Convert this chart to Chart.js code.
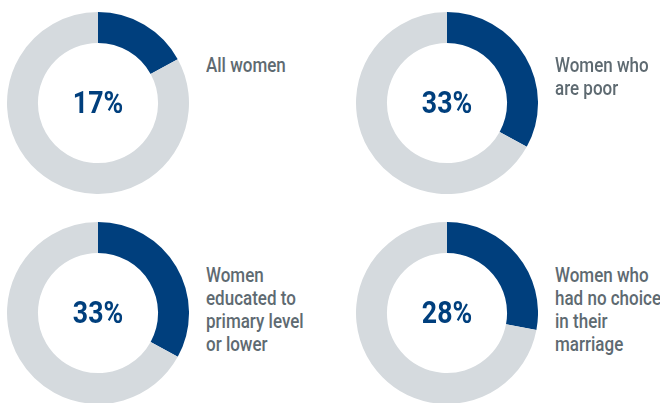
<!DOCTYPE html>
<html>
<head>
<meta charset="utf-8">
<script src="https://cdn.jsdelivr.net/npm/chart.js@4"></script>
<style>
  html, body { margin: 0; padding: 0; background: #fff; }
  #wrap { position: relative; width: 660px; height: 403px; overflow: hidden; }
  canvas { position: absolute; }
  .pct {
    position: absolute; width: 182px; text-align: center;
    font-family: "Roboto", sans-serif;
    font-weight: bold; font-size: 31px; color: #003f7d; line-height: 1;
    transform: scaleX(0.86); white-space: nowrap;
  }
  .lbl {
    position: absolute; white-space: nowrap;
    font-family: "Roboto", sans-serif; font-weight: 500;
    font-size: 20px; color: #5e6a71; line-height: 23px;
    transform: scaleX(0.85); transform-origin: 0 0;
  }
</style>
</head>
<body>
<div id="wrap"></div>
<script>
// share of women in each group
const groups = ["All women", "Women who are poor", "Women educated to primary level or lower", "Women who had no choice in their marriage"];
const labelLines = [
  ["All women"],
  ["Women who", "are poor"],
  ["Women", "educated to", "primary level", "or lower"],
  ["Women who", "had no choice", "in their", "marriage"]
];
const shares = [17, 33, 33, 28];

const blue = "#003f7d";
const grey = "#d5dade";

// top-left corner of each doughnut box
const spots = [[7, 12], [356, 12], [7, 222], [356, 222]];
const size = 182;

const wrap = document.getElementById("wrap");

shares.forEach((v, i) => {
  const [x, y] = spots[i];
  const cv = document.createElement("canvas");
  cv.width = size; cv.height = size;
  cv.style.left = x + "px"; cv.style.top = y + "px";
  wrap.appendChild(cv);

  new Chart(cv.getContext("2d"), {
    type: "doughnut",
    data: {
      labels: [groups[i], "Other"],
      datasets: [{
        data: [v, 100 - v],
        backgroundColor: [blue, grey],
        borderWidth: 0,
        hoverOffset: 0
      }]
    },
    options: {
      responsive: false,
      animation: false,
      cutout: "66%",
      plugins: { legend: { display: false }, tooltip: { enabled: false } }
    }
  });

  const pct = document.createElement("div");
  pct.className = "pct";
  pct.textContent = v + "%";
  pct.style.left = x + "px";
  pct.style.top = (y + size / 2 - 16) + "px";
  wrap.appendChild(pct);

  const lbl = document.createElement("div");
  lbl.className = "lbl";
  lbl.innerHTML = labelLines[i].join("<br>");
  lbl.style.left = (x + 199) + "px";
  lbl.style.top = (y + 42) + "px";
  wrap.appendChild(lbl);
});
</script>
</body>
</html>
